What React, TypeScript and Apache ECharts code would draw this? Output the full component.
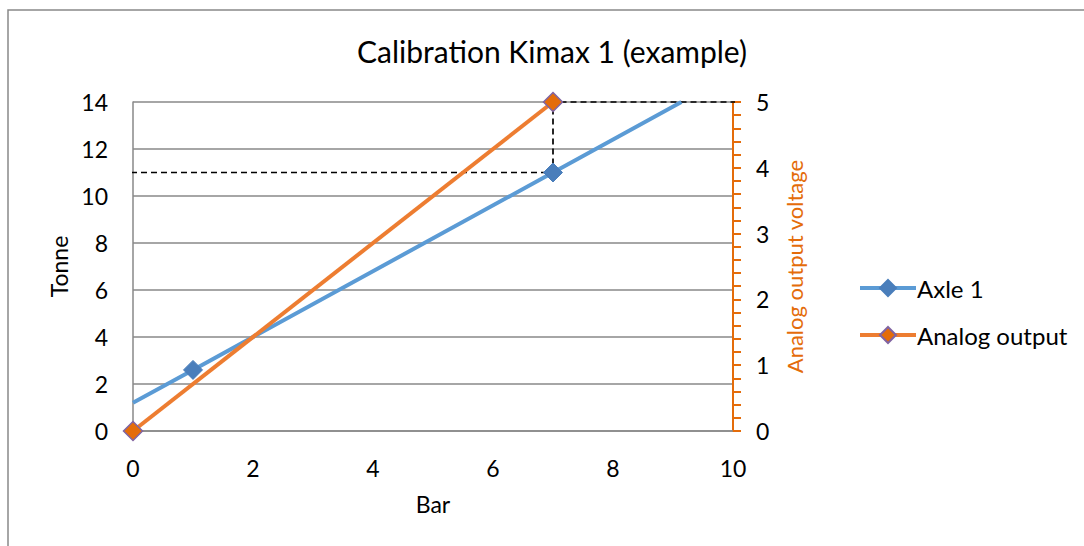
import React, { useEffect, useRef } from "react";
import * as echarts from "echarts";

const titleText = "Calibration Kimax 1 (example)";
const xTicks = [0, 2, 4, 6, 8, 10];
const axle1Points: [number, number][] = [[0, 1.2], [1, 2.6], [7, 11], [9.14, 14]];
const axle1Markers = [false, true, true, false];
const analogPoints: [number, number][] = [[0, 0], [7, 5]];
const guidePoints: [number, number][] = [[-0.2, 11], [7, 11], [7, 14], [10.18, 14]];
const seriesNames = ["Axle 1", "Analog output"];

const FONT = "Lato";
const FS = 23;
const BLUE = "#5b9bd5";
const BLUE_MARK = "#4a7ebb";
const ORANGE = "#ed7d31";
const ORANGE_AXIS = "#e46c0a";
const PURPLE = "#8064a2";
const GRID = "#898989";

export default function App() {
  const ref = useRef<HTMLDivElement>(null);
  useEffect(() => {
    if (!ref.current) return;
    const chart = echarts.init(ref.current, undefined, { renderer: "svg" });
    chart.setOption({
      animation: false,
      backgroundColor: "#fff",
      textStyle: { fontFamily: FONT },
      graphic: [
        {
          type: "rect",
          shape: { x: 8, y: 10, width: 1300, height: 900 },
          style: { fill: "none", stroke: GRID, lineWidth: 1.5 },
          silent: true,
        },
        {
          type: "text",
          x: 552,
          y: 51,
          style: {
            text: titleText,
            fontFamily: FONT,
            fontSize: 30,
            fill: "#000",
            align: "center",
            verticalAlign: "middle",
          },
        },
      ],
      legend: {
        orient: "vertical",
        left: 853,
        top: 271,
        itemWidth: 56,
        itemHeight: 20,
        itemGap: 23,
        data: seriesNames,
        lineStyle: { width: 4 },
        textStyle: { fontFamily: FONT, fontSize: 24, lineHeight: 20, color: "#000", padding: [0, 0, 0, -4] },
      },
      grid: { left: 133, right: 351, top: 102, bottom: 115 },
      xAxis: {
        type: "value",
        min: 0,
        max: 10,
        interval: 2,
        name: "Bar",
        nameLocation: "middle",
        nameGap: 61,
        nameTextStyle: { fontFamily: FONT, fontSize: FS, color: "#000" },
        axisLine: { show: true, lineStyle: { color: GRID, width: 1.5 } },
        axisTick: { show: false },
        splitLine: { show: false },
        axisLabel: { fontFamily: FONT, fontSize: FS, color: "#000", margin: 25 },
        data: xTicks,
      },
      yAxis: [
        {
          type: "value",
          min: 0,
          max: 14,
          interval: 2,
          name: "Tonne",
          nameLocation: "middle",
          nameGap: 59,
          nameRotate: 90,
          nameTextStyle: { fontFamily: FONT, fontSize: FS, color: "#000" },
          axisLine: { show: true, lineStyle: { color: GRID, width: 1.5 } },
          axisTick: { show: false },
          splitLine: { show: true, lineStyle: { color: GRID, width: 1.5 } },
          axisLabel: { fontFamily: FONT, fontSize: FS, color: "#000", margin: 25 },
        },
        {
          type: "value",
          position: "right",
          min: 0,
          max: 5,
          interval: 1,
          name: "Analog output voltage",
          nameLocation: "middle",
          nameGap: 50,
          nameRotate: 90,
          nameTextStyle: { fontFamily: FONT, fontSize: 22, color: ORANGE_AXIS },
          axisLine: { show: true, lineStyle: { color: ORANGE_AXIS, width: 2 } },
          axisTick: { show: true, length: 8, lineStyle: { color: ORANGE_AXIS, width: 2 } },
          minorTick: { show: true, splitNumber: 5, length: 8, lineStyle: { color: ORANGE_AXIS, width: 2 } },
          splitLine: { show: false },
          minorSplitLine: { show: false },
          axisLabel: { fontFamily: FONT, fontSize: FS, color: "#000", margin: 23 },
        },
      ],
      series: [
        {
          name: "guide",
          type: "line",
          data: guidePoints,
          symbol: "none",
          clip: false,
          z: 1,
          lineStyle: { color: "#000", width: 1.7, type: [6, 4] },
          silent: true,
        },
        {
          name: seriesNames[0],
          type: "line",
          data: axle1Points.map((p, i) => ({ value: p, symbol: axle1Markers[i] ? "diamond" : "none" })),
          symbol: "diamond",
          symbolSize: 19,
          showAllSymbol: true,
          z: 3,
          lineStyle: { color: BLUE, width: 4 },
          itemStyle: { color: BLUE_MARK, borderColor: BLUE_MARK, borderWidth: 1 },
        },
        {
          name: seriesNames[1],
          type: "line",
          yAxisIndex: 1,
          data: analogPoints,
          symbol: "diamond",
          symbolSize: 19,
          showAllSymbol: true,
          z: 4,
          lineStyle: { color: ORANGE, width: 4 },
          itemStyle: { color: ORANGE_AXIS, borderColor: PURPLE, borderWidth: 1.5 },
        },
      ],
    });
    return () => chart.dispose();
  }, []);
  return <div ref={ref} style={{ position: "fixed", left: 0, top: 0, width: 1084, height: 546 }} />;
}
